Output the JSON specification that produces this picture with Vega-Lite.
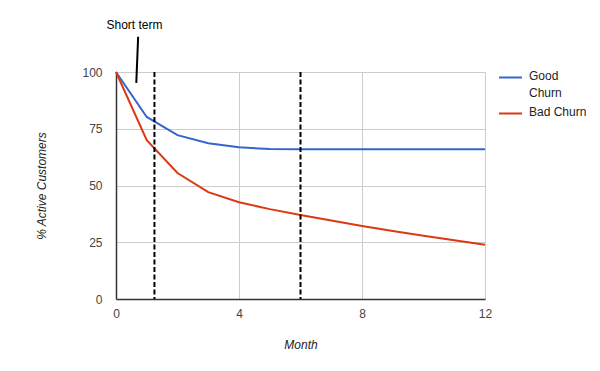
{
  "$schema": "https://vega.github.io/schema/vega-lite/v6.json",
  "width": 369,
  "height": 227,
  "autosize": {"type": "none"},
  "padding": {"left": 116, "top": 72, "right": 115, "bottom": 72},
  "background": "white",
  "config": {
    "view": {"stroke": null},
    "font": "Liberation Sans",
    "axis": {
      "labelFont": "Liberation Sans",
      "labelFontSize": 12,
      "labelColor": "#444444",
      "labelFlush": false,
      "titleFont": "Liberation Sans",
      "titleFontSize": 12,
      "titleFontStyle": "italic",
      "titleFontWeight": "normal",
      "titleColor": "#222222",
      "gridColor": "#cccccc",
      "gridOpacity": 1,
      "ticks": false,
      "domainColor": "#333333"
    }
  },
  "datasets": {
    "churn": [
      {"month": 0, "pct": 100, "series": "Good Churn"},
      {"month": 1, "pct": 80.2, "series": "Good Churn"},
      {"month": 2, "pct": 72.2, "series": "Good Churn"},
      {"month": 3, "pct": 68.6, "series": "Good Churn"},
      {"month": 4, "pct": 66.8, "series": "Good Churn"},
      {"month": 5, "pct": 66.1, "series": "Good Churn"},
      {"month": 6, "pct": 66, "series": "Good Churn"},
      {"month": 7, "pct": 66, "series": "Good Churn"},
      {"month": 8, "pct": 66, "series": "Good Churn"},
      {"month": 9, "pct": 66, "series": "Good Churn"},
      {"month": 10, "pct": 66, "series": "Good Churn"},
      {"month": 11, "pct": 66, "series": "Good Churn"},
      {"month": 12, "pct": 66, "series": "Good Churn"},
      {"month": 0, "pct": 100, "series": "Bad Churn"},
      {"month": 1, "pct": 70, "series": "Bad Churn"},
      {"month": 2, "pct": 55.5, "series": "Bad Churn"},
      {"month": 3, "pct": 47.1, "series": "Bad Churn"},
      {"month": 4, "pct": 42.6, "series": "Bad Churn"},
      {"month": 5, "pct": 39.6, "series": "Bad Churn"},
      {"month": 6, "pct": 37, "series": "Bad Churn"},
      {"month": 7, "pct": 34.6, "series": "Bad Churn"},
      {"month": 8, "pct": 32.2, "series": "Bad Churn"},
      {"month": 9, "pct": 30, "series": "Bad Churn"},
      {"month": 10, "pct": 27.9, "series": "Bad Churn"},
      {"month": 11, "pct": 25.9, "series": "Bad Churn"},
      {"month": 12, "pct": 23.9, "series": "Bad Churn"}
    ],
    "markers": [{"month": 1.25}, {"month": 6}],
    "note": [{"x": 0.72, "y": 115.5, "x2": 0.66, "y2": 95.2, "tx": 0.6, "ty": 120.8, "label": "Short term"}]
  },
  "layer": [
    {
      "data": {"name": "churn"},
      "mark": {"type": "line", "strokeWidth": 2, "clip": false},
      "encoding": {
        "x": {
          "field": "month",
          "type": "quantitative",
          "scale": {"domain": [0, 12], "nice": false},
          "axis": {"values": [0, 4, 8, 12], "title": "Month", "labelPadding": 9, "titlePadding": 20, "domainWidth": 1.5}
        },
        "y": {
          "field": "pct",
          "type": "quantitative",
          "scale": {"domain": [0, 100], "nice": false},
          "axis": {"values": [0, 25, 50, 75, 100], "title": "% Active Customers", "labelPadding": 14, "titlePadding": 33, "domainWidth": 1.5}
        },
        "color": {
          "field": "series",
          "type": "nominal",
          "scale": {"domain": ["Good Churn", "Bad Churn"], "range": ["#3366cc", "#dc3912"]},
          "legend": {
            "title": null,
            "orient": "none",
            "legendX": 382,
            "legendY": -7,
            "symbolType": "stroke",
            "symbolSize": 529,
            "symbolStrokeWidth": 2,
            "labelFont": "Liberation Sans",
            "labelFontSize": 12,
            "labelColor": "#222222",
            "labelExpr": "datum.label == 'Good Churn' ? ['Good', 'Churn'] : datum.label",
            "labelBaseline": "top",
            "labelOffset": 6,
            "rowPadding": 2,
            "encode": {
              "labels": {"update": {"dy": {"value": -7}, "lineHeight": {"value": 17}}}
            }
          }
        }
      }
    },
    {
      "data": {"name": "markers"},
      "mark": {"type": "rule", "color": "black", "strokeWidth": 2, "strokeDash": [5, 2.5]},
      "encoding": {"x": {"field": "month", "type": "quantitative"}}
    },
    {
      "data": {"name": "note"},
      "mark": {"type": "rule", "color": "black", "strokeWidth": 2, "clip": false},
      "encoding": {
        "x": {"field": "x", "type": "quantitative"},
        "y": {"field": "y", "type": "quantitative"},
        "x2": {"field": "x2"},
        "y2": {"field": "y2"}
      }
    },
    {
      "data": {"name": "note"},
      "mark": {"type": "text", "font": "Liberation Sans", "fontSize": 12, "color": "black", "clip": false},
      "encoding": {
        "x": {"field": "tx", "type": "quantitative"},
        "y": {"field": "ty", "type": "quantitative"},
        "text": {"field": "label"}
      }
    }
  ]
}
